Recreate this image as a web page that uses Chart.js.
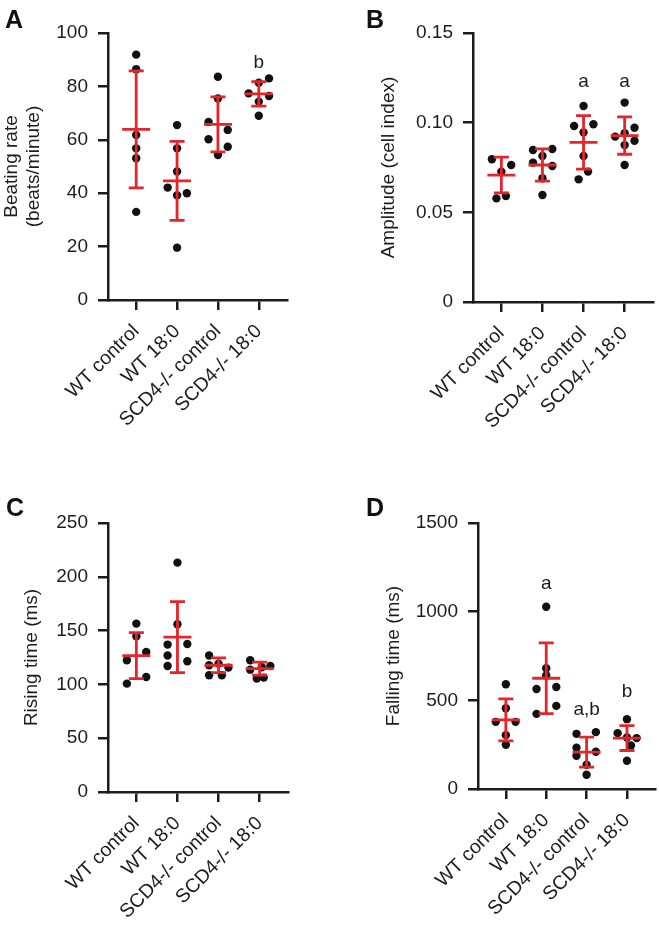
<!DOCTYPE html>
<html>
<head>
<meta charset="utf-8">
<script src="https://cdn.jsdelivr.net/npm/chart.js@4.4.1/dist/chart.umd.min.js"></script>
<style>
  body { margin: 0; background: #fff; }
  #wrap { position: relative; width: 659px; height: 925px; overflow: hidden; }
  canvas { position: absolute; }
  .tag { position: absolute; font: bold 25px "Liberation Sans", Arial, sans-serif; line-height: 25px; color: #111; }
</style>
</head>
<body>
<div id="wrap">
  <canvas id="cA" width="330" height="462" style="left:0;top:0"></canvas>
  <canvas id="cB" width="329" height="462" style="left:330px;top:0"></canvas>
  <canvas id="cC" width="330" height="463" style="left:0;top:462px"></canvas>
  <canvas id="cD" width="329" height="463" style="left:330px;top:462px"></canvas>
  <div class="tag" style="left:5px;top:7px">A</div>
  <div class="tag" style="left:366px;top:7px">B</div>
  <div class="tag" style="left:6px;top:495px">C</div>
  <div class="tag" style="left:366px;top:495px">D</div>
</div>
<script>
const groups = ['WT control', 'WT 18:0', 'SCD4-/- control', 'SCD4-/- 18:0']

// A - beating rate
const rateDots = [
  [91.9, 86.4, 61.8, 56.8, 53.1, 33.0],
  [65.5, 56.8, 48.1, 42.1, 39.2, 40.0, 19.6],
  [83.6, 75.5, 66.7, 63.7, 60.2, 57.4, 54.3],
  [83.0, 81.4, 77.4, 76.4, 74.3, 69.0],
]
const rateMean = [63.9, 44.6, 65.8, 77.2]
const rateSD = [21.9, 14.8, 10.3, 4.6]
const rateMarks = ['', '', '', 'b']
const rateMarkAt = [0, 0, 0, 89]
const rateJitter = [
  [0, 0, 0, 0, 0, 0],
  [0, 0, 0, -0.23, 0, 0.24, 0],
  [0, 0, -0.23, 0.24, -0.23, 0.24, 0],
  [0.25, 0, -0.25, 0.25, 0, 0],
]

// B - amplitude
const ampDots = [
  [0.0796, 0.0764, 0.0727, 0.0578, 0.0591],
  [0.0848, 0.0853, 0.0777, 0.0814, 0.0758, 0.0690, 0.0597],
  [0.1093, 0.0981, 0.0991, 0.0946, 0.0814, 0.0727, 0.0684],
  [0.1112, 0.0972, 0.0922, 0.0941, 0.0899, 0.0875, 0.0764],
]
const ampMean = [0.0708, 0.0764, 0.089, 0.0928]
const ampSD = [0.0100, 0.0090, 0.0149, 0.0104]
const ampMarks = ['', '', 'a', 'a']
const ampMarkAt = [0, 0, 0.1228, 0.1228]
const ampJitter = [
  [-0.23, 0.24, 0, -0.12, 0.11],
  [-0.23, 0.24, -0.23, 0, 0.24, 0, 0],
  [0, -0.23, 0.24, 0, 0, 0.11, -0.12],
  [0, 0.24, -0.23, 0, 0.24, 0, 0],
]

// C - rising time
const riseDots = [
  [156.5, 144.7, 122.4, 130.1, 100.7, 106.9],
  [213.2, 155.9, 137.0, 137.5, 126.8, 117.1, 121.5],
  [126.8, 117.8, 108.5, 108.5, 115.6, 119.3],
  [122.4, 113.7, 105.4, 106.3, 117.1, 116.0],
]
const riseMean = [126.8, 144, 117.8, 114.7]
const riseSD = [21.4, 33, 6.8, 6]
const riseMarks = ['', '', '', '']
const riseMarkAt = [0, 0, 0, 0]
const riseJitter = [
  [0, 0, -0.23, 0.24, -0.23, 0.24],
  [0, 0, -0.24, 0.24, -0.24, -0.24, 0.24],
  [-0.23, -0.23, -0.23, 0.08, 0.24, 0],
  [-0.23, -0.23, -0.07, 0.1, 0.26, 0.05],
]

// D - falling time
const fallDots = [
  [590.8, 455.7, 378.6, 378.6, 303.8, 249.2],
  [1027.4, 680.8, 640, 564.3, 575.6, 423.7, 468.7],
  [311.1, 320.7, 232.4, 209.9, 187.4, 136.7, 80.5],
  [393.8, 315, 287, 290, 245, 159.2],
]
const fallMean = [389.9, 624.5, 208, 287]
const fallSD = [118, 200, 85, 70]
const fallMarks = ['', 'a', 'a,b', 'b']
const fallMarkAt = [0, 1159, 449, 549]
const fallJitter = [
  [0, 0, -0.25, 0.24, 0, 0],
  [0, 0, 0, -0.24, 0.25, -0.24, 0.25],
  [-0.25, 0.23, -0.25, 0.23, -0.25, 0, 0],
  [0, -0.23, 0.24, 0, 0.1, 0],
]

const ink = '#1c1c1c'
const red = '#e3262b'
const family = '"Liberation Sans", Arial, sans-serif'

Chart.defaults.font.family = family
Chart.defaults.font.size = 19
Chart.defaults.color = ink

// mean +/- SD bars and the significance letters
const errorBars = {
  id: 'errorBars',
  afterDatasetsDraw(chart, args, opts) {
    const { ctx, scales: { x, y } } = chart
    ctx.save()
    ctx.strokeStyle = red
    ctx.lineWidth = 2.8
    opts.mean.forEach((m, i) => {
      const px = x.getPixelForValue(i + 1)
      const pm = y.getPixelForValue(m)
      const pu = y.getPixelForValue(m + opts.sd[i])
      const pl = y.getPixelForValue(m - opts.sd[i])
      ctx.beginPath()
      ctx.moveTo(px - 14, pm); ctx.lineTo(px + 14, pm)
      ctx.moveTo(px, pu); ctx.lineTo(px, pl)
      ctx.moveTo(px - 7.5, pu); ctx.lineTo(px + 7.5, pu)
      ctx.moveTo(px - 7.5, pl); ctx.lineTo(px + 7.5, pl)
      ctx.stroke()
    })
    ctx.fillStyle = ink
    ctx.font = '19px ' + family
    ctx.textAlign = 'center'
    ctx.textBaseline = 'middle'
    opts.marks.forEach((t, i) => {
      if (t) ctx.fillText(t, x.getPixelForValue(i + 1), y.getPixelForValue(opts.markAt[i]))
    })
    ctx.restore()
  },
}

const makePanel = (id, p) => {
  const canvas = document.getElementById(id)
  const axisGrid = { drawOnChartArea: false, drawTicks: true, tickLength: 10, color: ink, lineWidth: 2.5 }
  const axisBorder = { color: ink, width: 2.5 }
  const points = p.dots.flatMap((vals, i) => vals.map((v, j) => ({ x: i + 1 + p.jitter[i][j], y: v })))

  return new Chart(canvas.getContext('2d'), {
    type: 'scatter',
    data: {
      datasets: [{
        data: points,
        backgroundColor: '#111',
        borderWidth: 0,
        pointRadius: 4.2,
        pointHoverRadius: 4.2,
      }],
    },
    options: {
      responsive: false,
      animation: false,
      devicePixelRatio: 1,
      layout: { padding: { left: 0, top: p.top, right: p.right, bottom: 0 } },
      plugins: {
        legend: { display: false },
        tooltip: { enabled: false },
        errorBars: { mean: p.mean, sd: p.sd, marks: p.marks, markAt: p.markAt },
      },
      scales: {
        x: {
          type: 'linear',
          min: 0.31,
          max: 4.69,
          afterBuildTicks: (s) => { s.ticks = groups.map((g, i) => ({ value: i + 1 })) },
          afterFit: (s) => { s.height = canvas.height - p.bottom; s.paddingLeft = 0; s.paddingRight = 0 },
          ticks: { autoSkip: false, minRotation: 45, maxRotation: 45, padding: 10, font: { size: 19.5 }, callback: (v) => groups[v - 1] },
          grid: axisGrid,
          border: axisBorder,
        },
        y: {
          min: 0,
          max: p.yMax,
          afterFit: (s) => { s.width = p.yWidth; s.paddingTop = 0; s.paddingBottom = 0 },
          ticks: { stepSize: p.step, padding: 10, callback: p.fmt || ((v) => v) },
          grid: axisGrid,
          border: axisBorder,
          title: { display: true, text: p.title, lineHeight: 1.4, padding: { top: p.titlePad, bottom: 0 } },
        },
      },
    },
    plugins: [errorBars],
  })
}

makePanel('cA', {
  dots: rateDots, jitter: rateJitter, mean: rateMean, sd: rateSD, marks: rateMarks, markAt: rateMarkAt,
  yMax: 100, step: 20, title: ['Beating rate', '(beats/minute)'],
  yWidth: 108, top: 33, bottom: 300, right: 43, titlePad: 0,
})
makePanel('cB', {
  dots: ampDots, jitter: ampJitter, mean: ampMean, sd: ampSD, marks: ampMarks, markAt: ampMarkAt,
  yMax: 0.15, step: 0.05, title: 'Amplitude (cell index)', fmt: (v) => (v === 0 ? '0' : v.toFixed(2)),
  yWidth: 143, top: 33, bottom: 302, right: 6, titlePad: 47,
})
makePanel('cC', {
  dots: riseDots, jitter: riseJitter, mean: riseMean, sd: riseSD, marks: riseMarks, markAt: riseMarkAt,
  yMax: 250, step: 50, title: 'Rising time (ms)',
  yWidth: 108, top: 61, bottom: 330, right: 42, titlePad: 20,
})
makePanel('cD', {
  dots: fallDots, jitter: fallJitter, mean: fallMean, sd: fallSD, marks: fallMarks, markAt: fallMarkAt,
  yMax: 1500, step: 500, title: 'Falling time (ms)',
  yWidth: 148, top: 61, bottom: 327, right: 1, titlePad: 52,
})
</script>
</body>
</html>
